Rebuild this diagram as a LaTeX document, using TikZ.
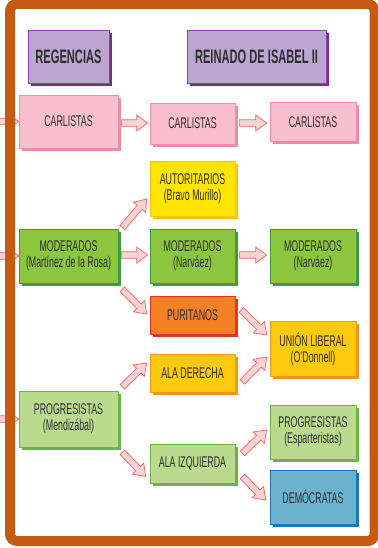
\documentclass[tikz,border=0pt]{standalone}
\usepackage{fontspec}
\setmainfont{Liberation Sans}[FakeStretch=0.57]
\usetikzlibrary{calc,shadows}
\definecolor{frameC}{HTML}{C55A11}
\definecolor{txt}{HTML}{2E2E2E}
\definecolor{purF}{HTML}{BDA5D1}
\definecolor{purD}{HTML}{8E44A8}
\definecolor{purS}{HTML}{7B2D8E}
\definecolor{pinkF}{HTML}{F9BFCF}
\definecolor{pinkD}{HTML}{F48AA6}
\definecolor{pinkS}{HTML}{F08AA5}
\definecolor{yelF}{HTML}{FFE500}
\definecolor{yelD}{HTML}{FFC20E}
\definecolor{grnF}{HTML}{8CC63E}
\definecolor{grnD}{HTML}{3F9B3F}
\definecolor{oraF}{HTML}{F58025}
\definecolor{oraD}{HTML}{E8312B}
\definecolor{goldF}{HTML}{FFC90E}
\definecolor{goldD}{HTML}{F7931E}
\definecolor{lgrF}{HTML}{BADB8E}
\definecolor{lgrD}{HTML}{6CB540}
\definecolor{bluF}{HTML}{6AB2CE}
\definecolor{bluD}{HTML}{1C75BC}
\definecolor{arrF}{HTML}{FBD3D2}
\definecolor{arrD}{HTML}{F06462}
\tikzset{
  box/.style={line width=0.7pt, align=center, inner sep=0pt, text=txt,
    font=\fontsize{15.5}{16}\selectfont},
  colbox/.style n args={3}{box, fill=#1, draw=#2,
    general shadow={fill=#3, shadow xshift=2.6pt, shadow yshift=-2.6pt}},
  hdr/.style={colbox={purF}{purD}{purS}, font=\fontsize{19.5}{20}\selectfont\bfseries},
  pinkbox/.style={colbox={pinkF}{pinkD}{pinkS}},
  yelbox/.style={colbox={yelF}{yelD}{yelD}},
  grnbox/.style={colbox={grnF}{grnD}{grnD}},
  orabox/.style={colbox={oraF}{oraD}{oraD}},
  goldbox/.style={colbox={goldF}{goldD}{goldD}},
  lgrbox/.style={colbox={lgrF}{lgrD}{lgrD}},
  blubox/.style={colbox={bluF}{bluD}{bluD}},
  fatarrow/.style={fill=arrF, draw=arrD, line width=0.7pt, line join=miter},
}
% fat hollow arrow between two points
\newcommand\fatarr[2]{%
  \coordinate (faS) at #1;
  \coordinate (faE) at #2;
  \coordinate (faH) at ($(faE)!11pt!(faS)$);
  \draw[fatarrow] ($(faS)!3.2pt!90:(faE)$) -- ($(faH)!3.2pt!90:(faE)$)
    -- ($(faH)!8pt!90:(faE)$) -- (faE) -- ($(faH)!8pt!-90:(faE)$)
    -- ($(faH)!3.2pt!-90:(faE)$) -- ($(faS)!3.2pt!-90:(faE)$) -- cycle;
}
\begin{document}
\begin{tikzpicture}[x=1pt,y=-1pt]
\useasboundingbox (0,0) rectangle (377,548);
\fill[white] (0,0) rectangle (377,548);

% headers
\node[hdr, minimum width=81pt, minimum height=53pt] (reg) at (68.5,56.5) {REGENCIAS};
\node[hdr, minimum width=139pt, minimum height=53pt] (rei) at (256.5,56.5) {REINADO DE ISABEL II};

% column 1
\node[pinkbox, minimum width=99pt, minimum height=53pt] (c1) at (68.5,121.5) {CARLISTAS};
\node[grnbox, minimum width=99pt, minimum height=54pt] (m1) at (68.5,256) {MODERADOS\\(Martínez de la Rosa)};
\node[lgrbox, minimum width=99pt, minimum height=56pt] (p1) at (68.5,419) {PROGRESISTAS\\(Mendizábal)};

% column 2
\node[pinkbox, minimum width=85pt, minimum height=41pt] (c2) at (192.5,123.5) {CARLISTAS};
\node[yelbox, minimum width=85pt, minimum height=55pt] (aut) at (192.5,189) {AUTORITARIOS\\(Bravo Murillo)};
\node[grnbox, minimum width=85pt, minimum height=54pt] (m2) at (192.5,256) {MODERADOS\\(Narváez)};
\node[orabox, minimum width=85pt, minimum height=38pt] (pur) at (192.5,315) {PURITANOS};
\node[goldbox, minimum width=85pt, minimum height=38pt] (ad) at (192.5,373.5) {ALA DERECHA};
\node[lgrbox, minimum width=85pt, minimum height=39pt] (ai) at (192.5,463.5) {ALA IZQUIERDA};

% column 3
\node[pinkbox, minimum width=86pt, minimum height=39pt] (c3) at (313,122) {CARLISTAS};
\node[grnbox, minimum width=86pt, minimum height=54pt] (m3) at (313,256) {MODERADOS\\(Narváez)};
\node[goldbox, minimum width=86pt, minimum height=55pt] (ul) at (313,349) {UNIÓN LIBERAL\\(O'Donnell)};
\node[lgrbox, minimum width=86pt, minimum height=54pt] (pe) at (313,432) {PROGRESISTAS\\(Esparteristas)};
\node[blubox, minimum width=86pt, minimum height=54pt] (dem) at (313,497) {DEMÓCRATAS};

% arrows
\fatarr{($(c1.east |- 0,123)+(3,0)$)}{($(c2.west |- 0,123)+(-2,0)$)}
\fatarr{($(c2.east |- 0,123)+(4,0)$)}{($(c3.west |- 0,123)+(-3,0)$)}
\fatarr{($(m1.east |- 0,255)+(3,0)$)}{($(m2.west |- 0,255)+(-2,0)$)}
\fatarr{($(m2.east |- 0,255)+(4,0)$)}{($(m3.west |- 0,255)+(-3,0)$)}
\fatarr{($(m1.north east)+(4,-1)$)}{($(aut.west)+(-3,10)$)}
\fatarr{($(m1.south east)+(4,6)$)}{($(pur.west)+(-3,-1)$)}
\fatarr{($(pur.east)+(6,-5)$)}{($(ul.west)+(-3,-14)$)}
\fatarr{($(p1.north east)+(4,-4)$)}{($(ad.west)+(-3,-10.5)$)}
\fatarr{($(ad.east)+(7,8.5)$)}{($(ul.west)+(-3,8)$)}
\fatarr{($(p1.south east)+(4,5)$)}{($(ai.west)+(-4,13)$)}
\fatarr{($(ai.east)+(7,-10)$)}{($(pe.west)+(-3,-2)$)}
\fatarr{($(ai.east)+(7,13)$)}{($(dem.west)+(-4,3)$)}

% incoming arrow stubs at the left edge
\coordinate (inC) at (-20,121.5);
\coordinate (inM) at (-20,256);
\coordinate (inP) at (-20,419);
\fatarr{(inC)}{(c1.west)}
\fatarr{(inM)}{(m1.west)}
\fatarr{(inP)}{(p1.west)}

% frame
\draw[frameC, line width=10pt, rounded corners=7pt] (10,4) rectangle (374.5,541);
\end{tikzpicture}
\end{document}
